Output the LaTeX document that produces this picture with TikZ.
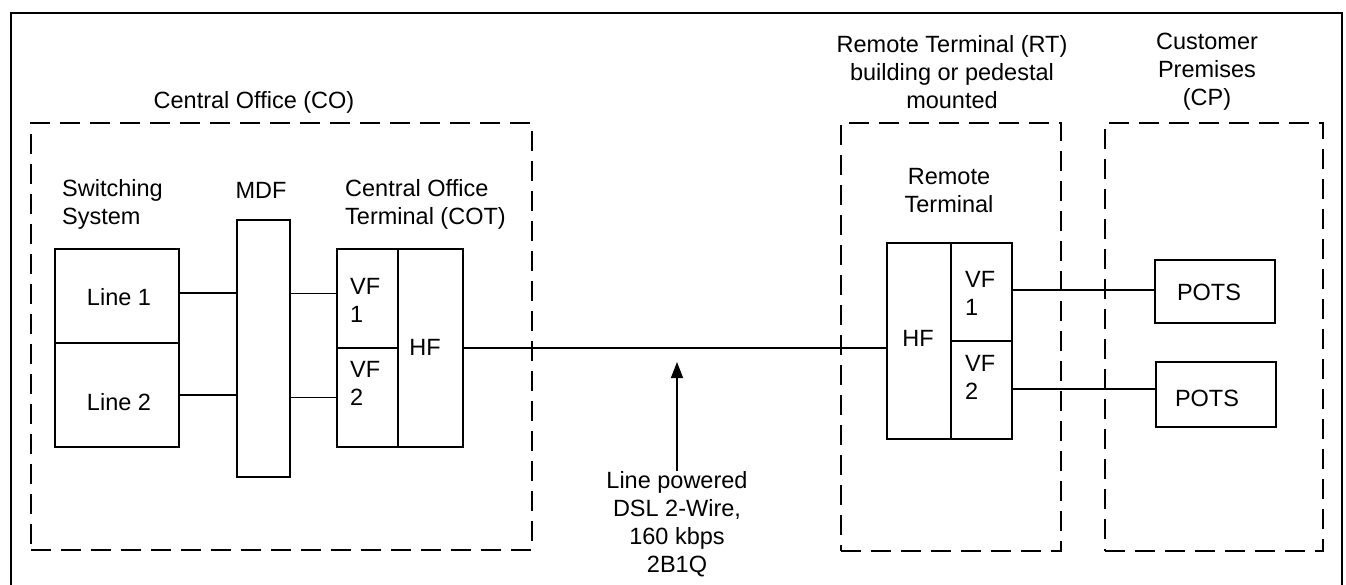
\documentclass[tikz,border=0pt]{standalone}
\usepackage{fontspec}
\setmainfont{Liberation Sans}
\usetikzlibrary{arrows.meta}
\begin{document}
\begin{tikzpicture}[x=1pt,y=-1pt,
  txt/.style={font=\fontsize{23.5}{28}\selectfont, inner sep=0pt, align=center},
  ltxt/.style={txt, align=left},
  zone/.style={draw, line width=2.8pt, dash pattern=on 20pt off 10pt, inner sep=0pt},
  frame/.style={line width=2.8pt},
  cell/.style={draw, line width=2pt, inner sep=0pt},
  wire/.style={line width=1.8pt},
  arr/.style={line width=1.4pt, -{Triangle[length=16pt,width=12pt]}}
]
\useasboundingbox (0,0) rectangle (1346,584);
% outer frame
\draw[frame] (11,586) -- (11,13) -- (1342,13) -- (1342,586);

% zones
\node[zone, minimum width=501, minimum height=427] (co) at (281.5,336.5) {};
\node[zone, minimum width=220, minimum height=428] (rt) at (951,337) {};
\node[zone, minimum width=218, minimum height=428] (cp) at (1214,337) {};

% zone labels
\node[txt] (colab) at (254,102) {Central Office (CO)};
\node[txt] (rtlab) at (952,72) {Remote Terminal (RT)\\building or pedestal\\mounted};
\node[txt] (cplab) at (1207,72) {Customer\\Premises\\(CP)};

% equipment labels
\node[ltxt, anchor=west] (swlab) at (62,204) {Switching\\System};
\node[txt] (mdflab) at (261,190) {MDF};
\node[ltxt, anchor=west] (cotlab) at (345,204) {Central Office\\Terminal (COT)};
\node[txt] (rtinlab) at (949,191) {Remote\\Terminal};

% switching system
\node[cell, minimum width=124, minimum height=94] (sw1) at (117,296) {};
\node[cell, minimum width=124, minimum height=104] (sw2) at (117,395) {};
\node[txt] (l1) at (119,297) {Line 1};
\node[txt] (l2) at (119,402) {Line 2};

% MDF
\node[cell, minimum width=53, minimum height=257] (mdf) at (263.5,348.5) {};

% COT
\node[cell, minimum width=61, minimum height=99] (cotvf1) at (367.5,298.5) {};
\node[cell, minimum width=61, minimum height=99] (cotvf2) at (367.5,397.5) {};
\node[cell, minimum width=65, minimum height=198] (cothf) at (430.5,348) {};
\node[ltxt, anchor=west] (cotvf1t) at (350,300) {VF\\1};
\node[ltxt, anchor=west] (cotvf2t) at (350,383) {VF\\2};
\node[txt] (cothft) at (425,347) {HF};

% RT
\node[cell, minimum width=64, minimum height=196] (rthf) at (919,341) {};
\node[cell, minimum width=61, minimum height=98] (rtvf1) at (981.5,292) {};
\node[cell, minimum width=61, minimum height=98] (rtvf2) at (981.5,390) {};
\node[txt] (rthft) at (918,338) {HF};
\node[ltxt, anchor=west] (rtvf1t) at (965,293) {VF\\1};
\node[ltxt, anchor=west] (rtvf2t) at (965,377) {VF\\2};

% POTS
\node[cell, minimum width=120, minimum height=63] (pots1) at (1215,291.5) {};
\node[cell, minimum width=120, minimum height=65] (pots2) at (1216,394.5) {};
\node[txt] (pots1t) at (1209,292) {POTS};
\node[txt] (pots2t) at (1207,398) {POTS};

% connectors
\draw[wire] ([yshift=3pt]sw1.east) -- ([yshift=3pt]sw1.east -| mdf.west);
\draw[wire] (sw2.east) -- (sw2.east -| mdf.west);
\draw[wire] ([yshift=5pt]cotvf1.west -| mdf.east) -- ([yshift=5pt]cotvf1.west);
\draw[wire] (cotvf2.west -| mdf.east) -- (cotvf2.west);
\draw[wire] (cothf.east) -- (cothf.east -| rthf.west);
\draw[wire] ([yshift=2pt]rtvf1.east) -- ([yshift=2pt]rtvf1.east -| pots1.west);
\draw[wire] ([yshift=1pt]rtvf2.east) -- ([yshift=1pt]rtvf2.east -| pots2.west);

% DSL label and arrow
\node[txt, anchor=north] (dsl) at (677,471) {Line powered\\DSL 2-Wire,\\160 kbps\\2B1Q};
\coordinate (ahead) at (677,362);
\draw[arr] (dsl.north) -- (ahead);
\end{tikzpicture}
\end{document}
